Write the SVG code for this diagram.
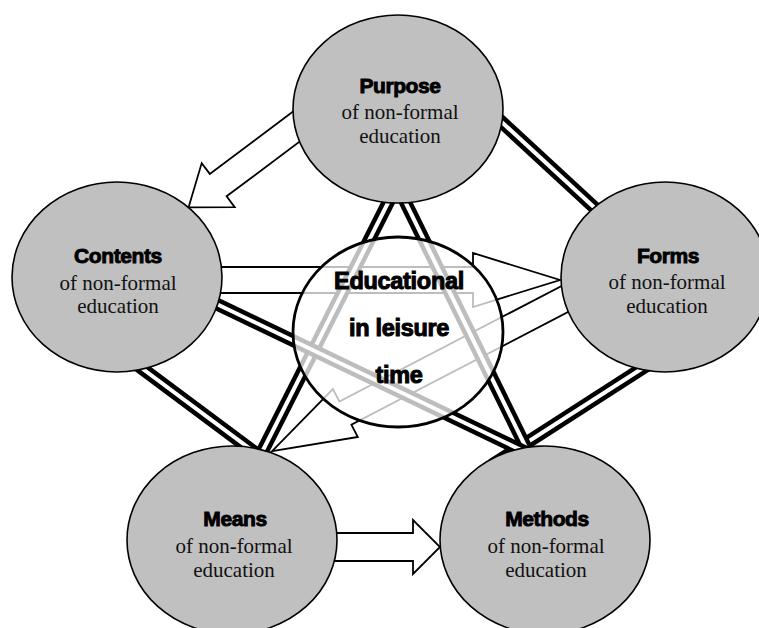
<svg xmlns="http://www.w3.org/2000/svg" width="759" height="628" viewBox="0 0 759 628">
<style>
.dl-o{stroke:#000;stroke-width:13;fill:none}
.dl-i{stroke:#fff;stroke-width:4;fill:none}
.arr{fill:#fff;stroke:#000;stroke-width:1.8;stroke-linejoin:miter}
.node{fill:#c0c0c0;stroke:#000;stroke-width:1.6}
.center{fill:#fff;fill-opacity:0.74;stroke:#000;stroke-width:2.8}
.ttl{font-family:"Liberation Sans",Arial,sans-serif;font-weight:bold;font-size:21px;fill:#000;stroke:#000;stroke-width:0.9;letter-spacing:-0.4px;text-anchor:middle}
.sub{font-family:"Liberation Serif","Times New Roman",serif;font-size:21px;fill:#111;text-anchor:middle}
.ctr{font-family:"Liberation Sans",Arial,sans-serif;font-weight:bold;font-size:23.5px;fill:#000;stroke:#000;stroke-width:1;letter-spacing:-0.3px;text-anchor:middle}
</style>
<rect width="759" height="628" fill="#fff"/>
<g id="connectors">
  <polygon class="arr" points="319,92 209.8,173.9 201.7,163.1 188.6,207.3 234.7,207.1 226.6,196.3 335.8,114.4"/>
  <polygon class="arr" points="200,267 473,267 473,253 560,280 473,307 473,293 200,293"/>
  <polygon class="arr" points="573.6,279.8 339.4,401.5 332.9,389.1 272.1,451.2 357.8,437 351.4,424.6 585.6,302.9"/>
  <polygon class="arr" points="320,533 413,533 413,520 440,547 413,574 413,561 320,561"/>
  <g id="dl-purpose-forms"><line class="dl-o" x1="480" y1="102" x2="610" y2="222"/><line class="dl-i" x1="480" y1="102" x2="610" y2="222"/></g>
  <g id="dl-contents-means"><line class="dl-o" x1="120" y1="352" x2="265" y2="460"/><line class="dl-i" x1="120" y1="352" x2="265" y2="460"/></g>
  <g id="dl-forms-methods"><line class="dl-o" x1="660" y1="357" x2="492" y2="465"/><line class="dl-i" x1="660" y1="357" x2="492" y2="465"/></g>
  <g id="dl-purpose-means"><line class="dl-o" x1="397" y1="185" x2="255" y2="466"/><line class="dl-i" x1="397" y1="185" x2="255" y2="466"/></g>
  <g id="dl-purpose-methods"><line class="dl-o" x1="397" y1="185" x2="535" y2="466"/><line class="dl-i" x1="397" y1="185" x2="535" y2="466"/></g>
  <g id="dl-contents-methods"><line class="dl-o" x1="200" y1="296" x2="540" y2="459"/><line class="dl-i" x1="200" y1="296" x2="540" y2="459"/></g>
</g>
<g id="node-purpose">
  <ellipse class="node" cx="398" cy="109" rx="105" ry="94"/>
  <text class="ttl" x="400" y="93">Purpose</text>
  <text class="sub" x="400" y="119">of non-formal</text>
  <text class="sub" x="400" y="143">education</text>
</g>
<g id="node-contents">
  <ellipse class="node" cx="117" cy="277" rx="105" ry="95"/>
  <text class="ttl" x="118" y="263">Contents</text>
  <text class="sub" x="118" y="290">of non-formal</text>
  <text class="sub" x="118" y="313">education</text>
</g>
<g id="node-forms">
  <ellipse class="node" cx="665" cy="277" rx="104" ry="95"/>
  <text class="ttl" x="668" y="263">Forms</text>
  <text class="sub" x="667" y="289">of non-formal</text>
  <text class="sub" x="667" y="313">education</text>
</g>
<g id="node-means">
  <ellipse class="node" cx="232" cy="540" rx="105" ry="94"/>
  <text class="ttl" x="235" y="526">Means</text>
  <text class="sub" x="234" y="553">of non-formal</text>
  <text class="sub" x="234" y="577">education</text>
</g>
<g id="node-methods">
  <ellipse class="node" cx="545" cy="540" rx="105" ry="94"/>
  <text class="ttl" x="547" y="526">Methods</text>
  <text class="sub" x="546" y="553">of non-formal</text>
  <text class="sub" x="546" y="577">education</text>
</g>
<g id="node-center">
  <ellipse class="center" cx="398" cy="332" rx="105" ry="95"/>
  <text class="ctr" x="399" y="289">Educational</text>
  <text class="ctr" x="399" y="336">in leisure</text>
  <text class="ctr" x="399" y="383">time</text>
</g>
</svg>
